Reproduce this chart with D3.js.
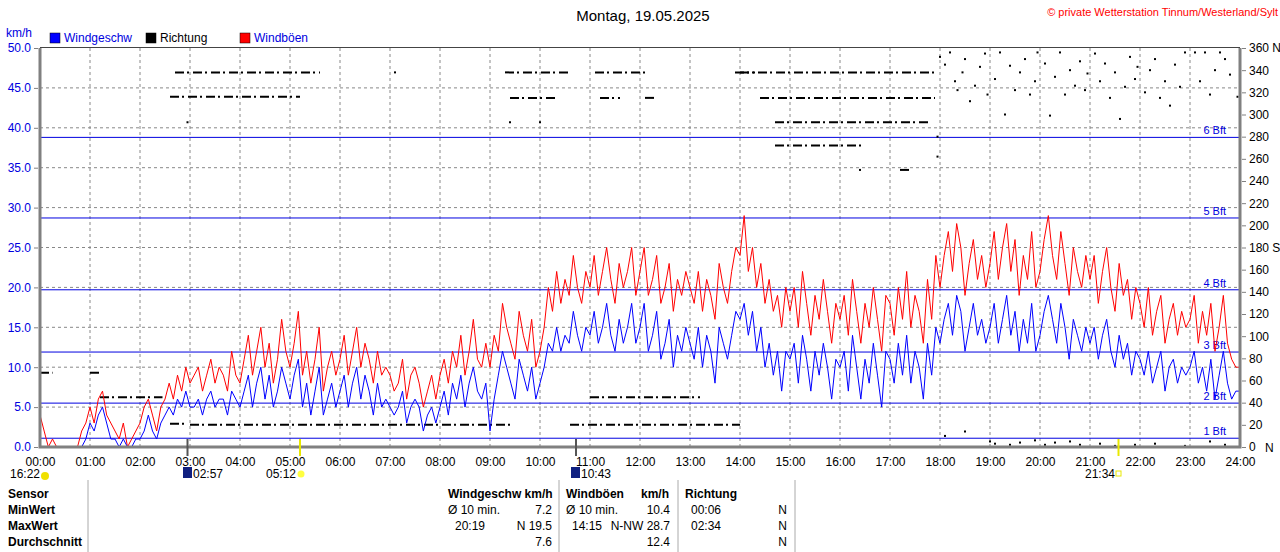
<!DOCTYPE html>
<html><head><meta charset="utf-8">
<script src="https://cdn.jsdelivr.net/npm/d3@7"></script>
<style>body{margin:0;background:#fff}text{font-family:"Liberation Sans",Arial,sans-serif;font-size:11px}</style>
</head><body><svg id="c" width="1280" height="552"></svg>
<script>
// 5-minute estimates per hour
var gusts = [
 [4,2,0,1,0,0,0,0,0,0,2,3],[5,3,6,7,4,3,2,1,3,0,1,2],[3,5,6,4,2,5,6,8,6,9,7,10],
 [8,9,10,7,9,11,8,10,9,7,12,9],[8,11,14,9,12,15,10,13,8,11,16,12],[10,13,17,9,12,8,11,15,7,10,12,9],
 [11,14,9,12,15,10,13,11,8,12,9,10],[9,7,8,11,6,9,10,8,5,7,9,6],[9,11,8,12,10,14,9,12,16,11,10,13],
 [10,14,12,18,15,13,11,17,14,12,16,10],[12,15,20,17,22,18,21,19,24,20,18,22],[20,24,19,22,25,21,18,23,20,22,25,19],
 [22,25,19,21,24,18,20,23,17,21,19,22],[20,18,22,17,21,19,16,23,20,18,22,25],[24,29,22,25,20,23,18,21,17,19,15,20],
 [17,20,15,22,18,14,19,16,21,17,13,18],[16,19,14,21,17,13,18,15,20,16,12,19],[18,14,20,16,22,15,19,17,13,21,16,24],
 [20,24,27,22,28,25,19,23,26,21,24,20],[23,27,21,25,28,22,26,19,24,21,27,20],[22,26,29,24,21,27,23,19,25,22,20,24],
 [21,24,18,22,25,20,17,23,19,21,16,20],[18,15,20,14,17,19,13,16,18,14,17,15],[16,19,13,17,14,18,12,15,19,13,11,10],[10]
];
var wind = [
 [0,0,0,0,0,0,0,0,0,0,0,1],[3,2,4,5,3,1,1,0,1,0,0,1],[1,2,4,2,1,3,4,5,4,6,5,7],
 [5,5,6,4,6,7,5,6,6,4,7,6],[5,7,9,5,8,10,6,9,5,7,10,8],[6,9,11,5,8,4,7,10,4,6,8,5],
 [7,9,5,8,10,6,9,7,4,8,5,6],[5,4,5,7,3,5,6,5,2,4,5,3],[5,7,4,8,6,9,5,8,10,7,6,8],
 [2,6,9,12,10,8,6,11,9,7,10,6],[8,10,13,12,15,12,14,13,17,14,12,15],[14,17,13,15,18,14,12,16,13,15,18,13],
 [15,18,12,14,17,11,13,16,10,14,12,15],[13,11,15,10,14,12,8,15,13,11,14,17],[16,18,14,17,12,15,10,13,9,12,7,12],
 [11,13,8,14,11,7,12,9,13,10,6,11],[10,12,7,14,10,6,11,8,13,9,5,12],[11,8,13,9,14,8,12,10,6,13,9,15],
 [13,16,18,14,19,17,12,15,18,14,16,13],[15,18,13,16,19,14,17,12,16,13,18,12],[14,17,19,16,13,18,15,11,16,14,12,15],
 [13,15,11,14,16,12,10,14,11,13,9,12],[11,9,12,8,10,12,7,10,11,8,10,9],[10,12,8,10,7,11,6,9,12,8,6,7],[7]
];
// direction runs: [start h, end h, degrees]
var dirRuns = [[0,0.25,67],[1,1.2,67],[1.2,2.45,45],[2.6,2.9,21],[2.7,5.6,338],[2.6,5.2,316],[3,9.4,20],
 [9.3,10.6,338],[9.4,10.3,315],[11.1,12.1,338],[11.2,11.6,315],[12.1,12.3,315],[10.6,14,20],[11,13.2,45],
 [13.9,14.3,338],[14,17.9,338],[14.4,17.9,315],[14.7,17.8,293],[14.7,16.5,272],[17.2,17.4,250]];
var dirDots = [[2.95,293],[7.1,338],[9.4,293],[10,293],[16.4,250],[17.95,262],[17.95,280],
 [18,352],[18.1,345],[18.2,356],[18.3,330],[18.35,322],[18.45,338],[18.5,350],[18.6,312],[18.7,326],[18.8,343],[18.9,355],[18.95,318],
 [19.1,332],[19.2,356],[19.3,300],[19.4,344],[19.5,322],[19.6,338],[19.7,350],[19.8,318],[19.9,330],[19.95,356],
 [20.1,346],[20.2,299],[20.3,334],[20.4,356],[20.5,318],[20.6,340],[20.7,326],[20.8,348],[20.9,322],[20.95,337],
 [21.1,355],[21.2,330],[21.3,346],[21.4,315],[21.5,338],[21.6,296],[21.7,325],[21.8,352],[21.9,332],[21.95,343],
 [22.1,320],[22.2,340],[22.3,350],[22.4,315],[22.5,330],[22.6,308],[22.7,345],[22.8,325],[22.9,356],
 [23.1,356],[23.2,330],[23.3,356],[23.4,318],[23.5,340],[23.6,356],[23.7,350],[23.8,336],[23.95,316],
 [18.1,10],[18.5,14],[19,5],[19.1,3],[19.4,2],[19.6,4],[19.9,6],[20.1,2],[20.3,4],[20.6,5],[20.8,2],[21.2,3],[21.5,1],[21.9,2],[22.3,3],[22.9,1],[23.4,5],[23.7,2]];
var bftVals = [1.1,5.5,11.9,19.7,28.7,38.8], bftNames = ["1 Bft","2 Bft","3 Bft","4 Bft","5 Bft","6 Bft"];
var hourLabels = d3.range(0,25).map(h => (h<10?"0":"")+h+":00");

var svg = d3.select("#c");
var x = d3.scaleLinear().domain([0,24]).range([40,1240]);
var y = d3.scaleLinear().domain([0,50]).range([447,48]);
var yd = d3.scaleLinear().domain([0,360]).range([447,48]);

function flat(a){var out=[];a.forEach((row,h)=>row.forEach((v,i)=>out.push([h+i/12,v])));return out;}

// grid
svg.append("g").selectAll("line").data(d3.range(1,24)).join("line")
 .attr("x1",d=>x(d)).attr("x2",d=>x(d)).attr("y1",48).attr("y2",447)
 .attr("stroke","#888").attr("stroke-dasharray","3,3");
svg.append("g").selectAll("line").data(d3.range(5,50,5)).join("line")
 .attr("x1",40).attr("x2",1240).attr("y1",d=>y(d)).attr("y2",d=>y(d))
 .attr("stroke","#888").attr("stroke-dasharray","3,3");

// beaufort
var bg = svg.append("g").selectAll("g").data(bftVals).join("g");
bg.append("line").attr("x1",40).attr("x2",1240).attr("y1",d=>y(d)).attr("y2",d=>y(d)).attr("stroke","#0000e0");
bg.append("text").attr("x",1226).attr("y",d=>y(d)-3).attr("text-anchor","end").attr("fill","#0000e0")
 .text((d,i)=>bftNames[i]);

// direction
svg.append("g").selectAll("line").data(dirRuns).join("line")
 .attr("x1",d=>x(d[0])).attr("x2",d=>x(d[1])).attr("y1",d=>yd(d[2])).attr("y2",d=>yd(d[2]))
 .attr("stroke","#000").attr("stroke-width",2).attr("stroke-dasharray","9,3,2,4");
svg.append("g").selectAll("rect").data(dirDots).join("rect")
 .attr("x",d=>x(d[0])-1).attr("y",d=>yd(d[1])-1).attr("width",2).attr("height",2).attr("fill","#000");

// series
var line = d3.line().x(d=>x(d[0])).y(d=>y(d[1]));
svg.append("path").attr("d",line(flat(gusts))).attr("fill","none").attr("stroke","#ff0000");
svg.append("path").attr("d",line(flat(wind))).attr("fill","none").attr("stroke","#0000ff");

// frame
svg.append("path").attr("d","M40,48V447H1240V48").attr("fill","none").attr("stroke","#808080").attr("stroke-width",3);
svg.append("line").attr("x1",40).attr("x2",1240).attr("y1",47.5).attr("y2",47.5).attr("stroke","#444");

// axes
var yl = d3.axisLeft(y).tickValues(d3.range(0,51,5)).tickFormat(d3.format(".1f")).tickSize(4);
var gl = svg.append("g").attr("transform","translate(38,0)").call(yl);
gl.select(".domain").remove(); gl.selectAll("text").attr("fill","#0000e0").style("font-size","12px");
gl.selectAll("line").attr("stroke","#808080");
var yr = d3.axisRight(yd).tickValues(d3.range(0,361,20)).tickSize(4)
 .tickFormat(d=>d+(d==360?" N":d==180?" S":""));
var gr = svg.append("g").attr("transform","translate(1242,0)").call(yr);
gr.select(".domain").remove(); gr.selectAll("text").attr("fill","#000").style("font-size","12px");
gr.selectAll("line").attr("stroke","#808080");
svg.append("text").attr("x",1265).attr("y",452).text("N").style("font-size","12px");
var xa = d3.axisBottom(x).ticks(24).tickFormat((d,i)=>hourLabels[i]).tickSize(0).tickPadding(10);
var gx = svg.append("g").attr("transform","translate(0,447)").call(xa);
gx.select(".domain").remove(); gx.selectAll("text").attr("fill","#000").style("font-size","12px");

// astro marks
var astro = [[2.95,"02:57","#555",0],[5.2,"05:12","#e8e800",1],[10.72,"10:43","#555",0],[21.57,"21:34","#e8e800",1]];
astro.forEach(a=>{
  svg.append("line").attr("x1",x(a[0])).attr("x2",x(a[0])).attr("y1",439).attr("y2",456).attr("stroke",a[2]).attr("stroke-width",2);
});
svg.append("text").attr("x",10).attr("y",478).text("16:22").style("font-size","12px");
svg.append("circle").attr("cx",45).attr("cy",476).attr("r",4).attr("fill","#f0e000");
svg.append("rect").attr("x",183).attr("y",467).attr("width",9).attr("height",11).attr("fill","#102080");
svg.append("text").attr("x",193).attr("y",478).text("02:57").style("font-size","12px");
svg.append("text").attr("x",266).attr("y",478).text("05:12").style("font-size","12px");
svg.append("circle").attr("cx",301).attr("cy",474).attr("r",3.5).attr("fill","#ffff40");
svg.append("rect").attr("x",571).attr("y",467).attr("width",9).attr("height",11).attr("fill","#102080");
svg.append("text").attr("x",581).attr("y",478).text("10:43").style("font-size","12px");
svg.append("text").attr("x",1085).attr("y",478).text("21:34").style("font-size","12px");
svg.append("rect").attr("x",1116).attr("y",471).attr("width",5).attr("height",5).attr("fill","none").attr("stroke","#e8e800");

// titles and legend
svg.append("text").attr("x",643).attr("y",21).attr("text-anchor","middle").text("Montag, 19.05.2025").style("font-size","15px");
svg.append("text").attr("x",1278).attr("y",16).attr("text-anchor","end").attr("fill","#ff0000").text("© private Wetterstation Tinnum/Westerland/Sylt");
svg.append("text").attr("x",6).attr("y",37).attr("fill","#0000e0").text("km/h").style("font-size","12px");
var legend = [["Windgeschw","#0000ff","#0000e0",50],["Richtung","#000","#000",146],["Windböen","#ff0000","#0000e0",240]];
legend.forEach(l=>{
  svg.append("rect").attr("x",l[3]).attr("y",33).attr("width",10).attr("height",10).attr("fill",l[1]).attr("stroke","#000").attr("stroke-width",0.5);
  svg.append("text").attr("x",l[3]+14).attr("y",42).attr("fill",l[2]).text(l[0]).style("font-size","12px");
});

// summary table
[88,559,678,795].forEach(v=>svg.append("line").attr("x1",v).attr("x2",v).attr("y1",480).attr("y2",552).attr("stroke","#aaa"));
var rowY = [498,514,530,546];
var cells = [
 [8,0,"Sensor","start",1],[8,1,"MinWert","start",1],[8,2,"MaxWert","start",1],[8,3,"Durchschnitt","start",1],
 [448,0,"Windgeschw km/h","start",1],[448,1,"Ø 10 min.","start",0],[552,1,"7.2","end",0],[455,2,"20:19","start",0],[552,2,"N 19.5","end",0],[552,3,"7.6","end",0],
 [566,0,"Windböen","start",1],[641,0,"km/h","start",1],[566,1,"Ø 10 min.","start",0],[670,1,"10.4","end",0],[572,2,"14:15","start",0],[670,2,"N-NW 28.7","end",0],[670,3,"12.4","end",0],
 [685,0,"Richtung","start",1],[691,1,"00:06","start",0],[691,2,"02:34","start",0],[787,1,"N","end",0],[787,2,"N","end",0],[787,3,"N","end",0]];
svg.append("g").selectAll("text").data(cells).join("text")
 .attr("x",d=>d[0]).attr("y",d=>rowY[d[1]]).attr("text-anchor",d=>d[3]).attr("font-weight",d=>d[4]?"bold":"normal")
 .style("font-size","12px").text(d=>d[2]);
</script></body></html>
